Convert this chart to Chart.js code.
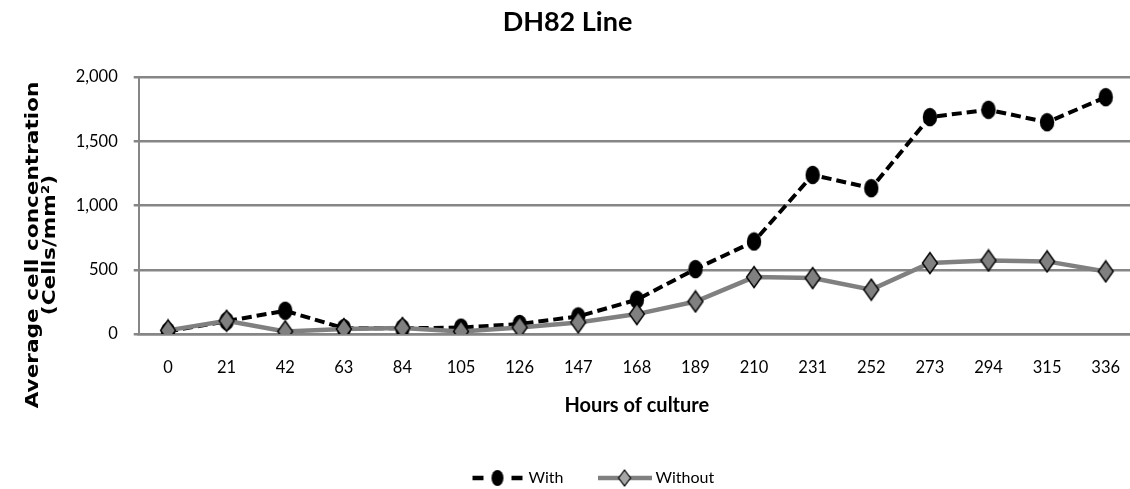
<!DOCTYPE html>
<html>
<head>
<meta charset="utf-8">
<script src="https://cdn.jsdelivr.net/npm/chart.js@4.4.1/dist/chart.umd.min.js"></script>
<style>
  html, body { margin: 0; padding: 0; background: #ffffff; }
  #wrap { width: 1130px; height: 489px; }
</style>
</head>
<body>
<div id="wrap"><canvas id="c" width="1130" height="489"></canvas></div>
<script>
// ---- data ----
const hours = ['0','21','42','63','84','105','126','147','168','189','210','231','252','273','294','315','336'];
const withCells = [20, 100, 181, 45, 45, 50, 78, 137, 267, 505, 720, 1238, 1135, 1688, 1745, 1648, 1843];
const withoutCells = [28, 103, 20, 39, 47, 20, 51, 90, 155, 253, 443, 435, 345, 552, 572, 565, 487];
const seriesNames = ['With', 'Without'];
const yTickValues = [0, 500, 1000, 1500, 2000];
const chartTitle = 'DH82 Line';
const xTitle = 'Hours of culture';
const yTitleLines = ['Average cell concentration', '(Cells/mm\u00B2)'];

// ---- styles ----
const FONT = 'Lato, "Open Sans", sans-serif';
const GRID = '#868686';
const GREY = '#808080';

function makeCanvas(w, h, draw) {
  const c = document.createElement('canvas');
  c.width = w; c.height = h;
  draw(c.getContext('2d'), w, h);
  return c;
}
const circleImg = makeCanvas(16, 20, (g, w, h) => {
  g.fillStyle = '#000';
  g.beginPath(); g.ellipse(w / 2, h / 2, 7.2, 9.2, 0, 0, Math.PI * 2); g.fill();
});
const diamondImg = makeCanvas(18, 24, (g, w, h) => {
  g.fillStyle = GREY; g.strokeStyle = '#000'; g.lineWidth = 1.4;
  g.beginPath();
  g.moveTo(w / 2, 1.5); g.lineTo(w - 1.5, h / 2); g.lineTo(w / 2, h - 1.5); g.lineTo(1.5, h / 2);
  g.closePath(); g.fill(); g.stroke();
});
const legendWithImg = makeCanvas(52, 22, (g, w, h) => {
  g.strokeStyle = '#000'; g.lineWidth = 4.5;
  g.beginPath(); g.moveTo(1, h / 2); g.lineTo(12, h / 2); g.moveTo(40, h / 2); g.lineTo(51, h / 2); g.stroke();
  g.fillStyle = '#000';
  g.beginPath(); g.ellipse(26, h / 2, 6, 8, 0, 0, Math.PI * 2); g.fill();
});
const legendWithoutImg = makeCanvas(54, 22, (g, w, h) => {
  g.strokeStyle = GREY; g.lineWidth = 4.5;
  g.beginPath(); g.moveTo(0, h / 2); g.lineTo(w, h / 2); g.stroke();
  g.fillStyle = '#a6a6a6'; g.strokeStyle = '#000'; g.lineWidth = 1.2;
  g.beginPath();
  g.moveTo(27, 3); g.lineTo(33, h / 2); g.lineTo(27, h - 3); g.lineTo(21, h / 2);
  g.closePath(); g.fill(); g.stroke();
});
const legendImgs = [legendWithImg, legendWithoutImg];

const yTitlePlugin = {
  id: 'yTitle',
  afterDraw(chart) {
    const ctx = chart.ctx;
    const cy = 245;
    const xs = [33, 50];
    ctx.save();
    ctx.fillStyle = '#000';
    ctx.font = 'bold 18px "DejaVu Sans", Verdana, sans-serif';
    ctx.textAlign = 'center';
    ctx.textBaseline = 'middle';
    yTitleLines.forEach((t, i) => {
      ctx.save();
      ctx.translate(xs[i], cy);
      ctx.rotate(-Math.PI / 2);
      ctx.scale(1.2, 1);
      ctx.fillText(t, 0, 0);
      ctx.restore();
    });
    ctx.restore();
  }
};

// The plot area runs slightly past the right edge of the picture in the reference.
const layoutTweaks = {
  id: 'layoutTweaks',
  afterLayout(chart) {
    const x = chart.scales.x;
    const plotRight = 1135;
    x.right = plotRight;
    x.width = x.right - x.left;
    x.configure();
    chart.chartArea.right = plotRight;
    chart.chartArea.width = plotRight - chart.chartArea.left;

    const lg = chart.legend;
    if (!lg || !lg.lineWidths) return;
    const pad = lg.options.labels.padding;
    const start = (lg.left + pad + lg.right - lg.lineWidths[0]) / 2;
    const dx = 474.5 - start;
    lg.left += dx; lg.right += dx;
    lg.top += 7; lg.bottom += 7;
  }
};

new Chart(document.getElementById('c'), {
  type: 'line',
  data: {
    labels: hours,
    datasets: [
      {
        label: seriesNames[0],
        data: withCells,
        borderColor: '#000',
        backgroundColor: '#000',
        borderWidth: 4,
        borderDash: [10, 5],
        pointStyle: circleImg,
        pointRadius: 7,
        tension: 0,
        order: 1
      },
      {
        label: seriesNames[1],
        data: withoutCells,
        borderColor: GREY,
        backgroundColor: GREY,
        borderWidth: 4.5,
        pointStyle: diamondImg,
        pointRadius: 8,
        tension: 0,
        order: 0
      }
    ]
  },
  options: {
    responsive: false,
    animation: false,
    devicePixelRatio: 1,
    layout: { autoPadding: false, padding: { left: 0, right: -5, top: 0, bottom: 0 } },
    plugins: {
      title: {
        display: true,
        text: chartTitle,
        color: '#000',
        font: { family: FONT, size: 27, weight: 'bold' },
        padding: { top: 6.3, bottom: 38.3 }
      },
      legend: {
        position: 'bottom',
        labels: {
          usePointStyle: true,
          pointStyleWidth: 46,
          padding: 38,
          color: '#000',
          font: { family: FONT, size: 16 },
          generateLabels(chart) {
            return chart.data.datasets.map((ds, i) => ({
              text: ds.label,
              pointStyle: legendImgs[i],
              fillStyle: ds.backgroundColor,
              strokeStyle: ds.borderColor,
              lineWidth: 0,
              hidden: false,
              datasetIndex: i
            }));
          }
        }
      },
      tooltip: { enabled: false }
    },
    scales: {
      x: {
        offset: true,
        afterFit(scale) { scale.height = 91; scale.paddingLeft = 0; scale.paddingRight = 0; },
        grid: { display: false, drawTicks: false },
        border: { display: true, color: GRID, width: 2.5 },
        ticks: { color: '#000', padding: 23.4, font: { family: FONT, size: 16.5 }, maxRotation: 0, autoSkip: false },
        title: {
          display: true,
          text: xTitle,
          color: '#000',
          font: { family: FONT, size: 20, weight: 'bold' },
          padding: { top: 0, bottom: 7 }
        }
      },
      y: {
        min: 0,
        max: 2000,
        afterFit(scale) { scale.width = 138.7; },
        afterBuildTicks(scale) { scale.ticks = yTickValues.map(v => ({ value: v })); },
        grid: { color: GRID, lineWidth: 2.5, tickLength: 5, drawTicks: true },
        border: { display: true, color: GRID, width: 2 },
        ticks: {
          color: '#000',
          padding: 16,
          font: { family: FONT, size: 16.5 },
          callback: (v) => v.toLocaleString('en-US')
        },
        title: { display: false }
      }
    }
  },
  plugins: [yTitlePlugin, layoutTweaks]
});
</script>
</body>
</html>
